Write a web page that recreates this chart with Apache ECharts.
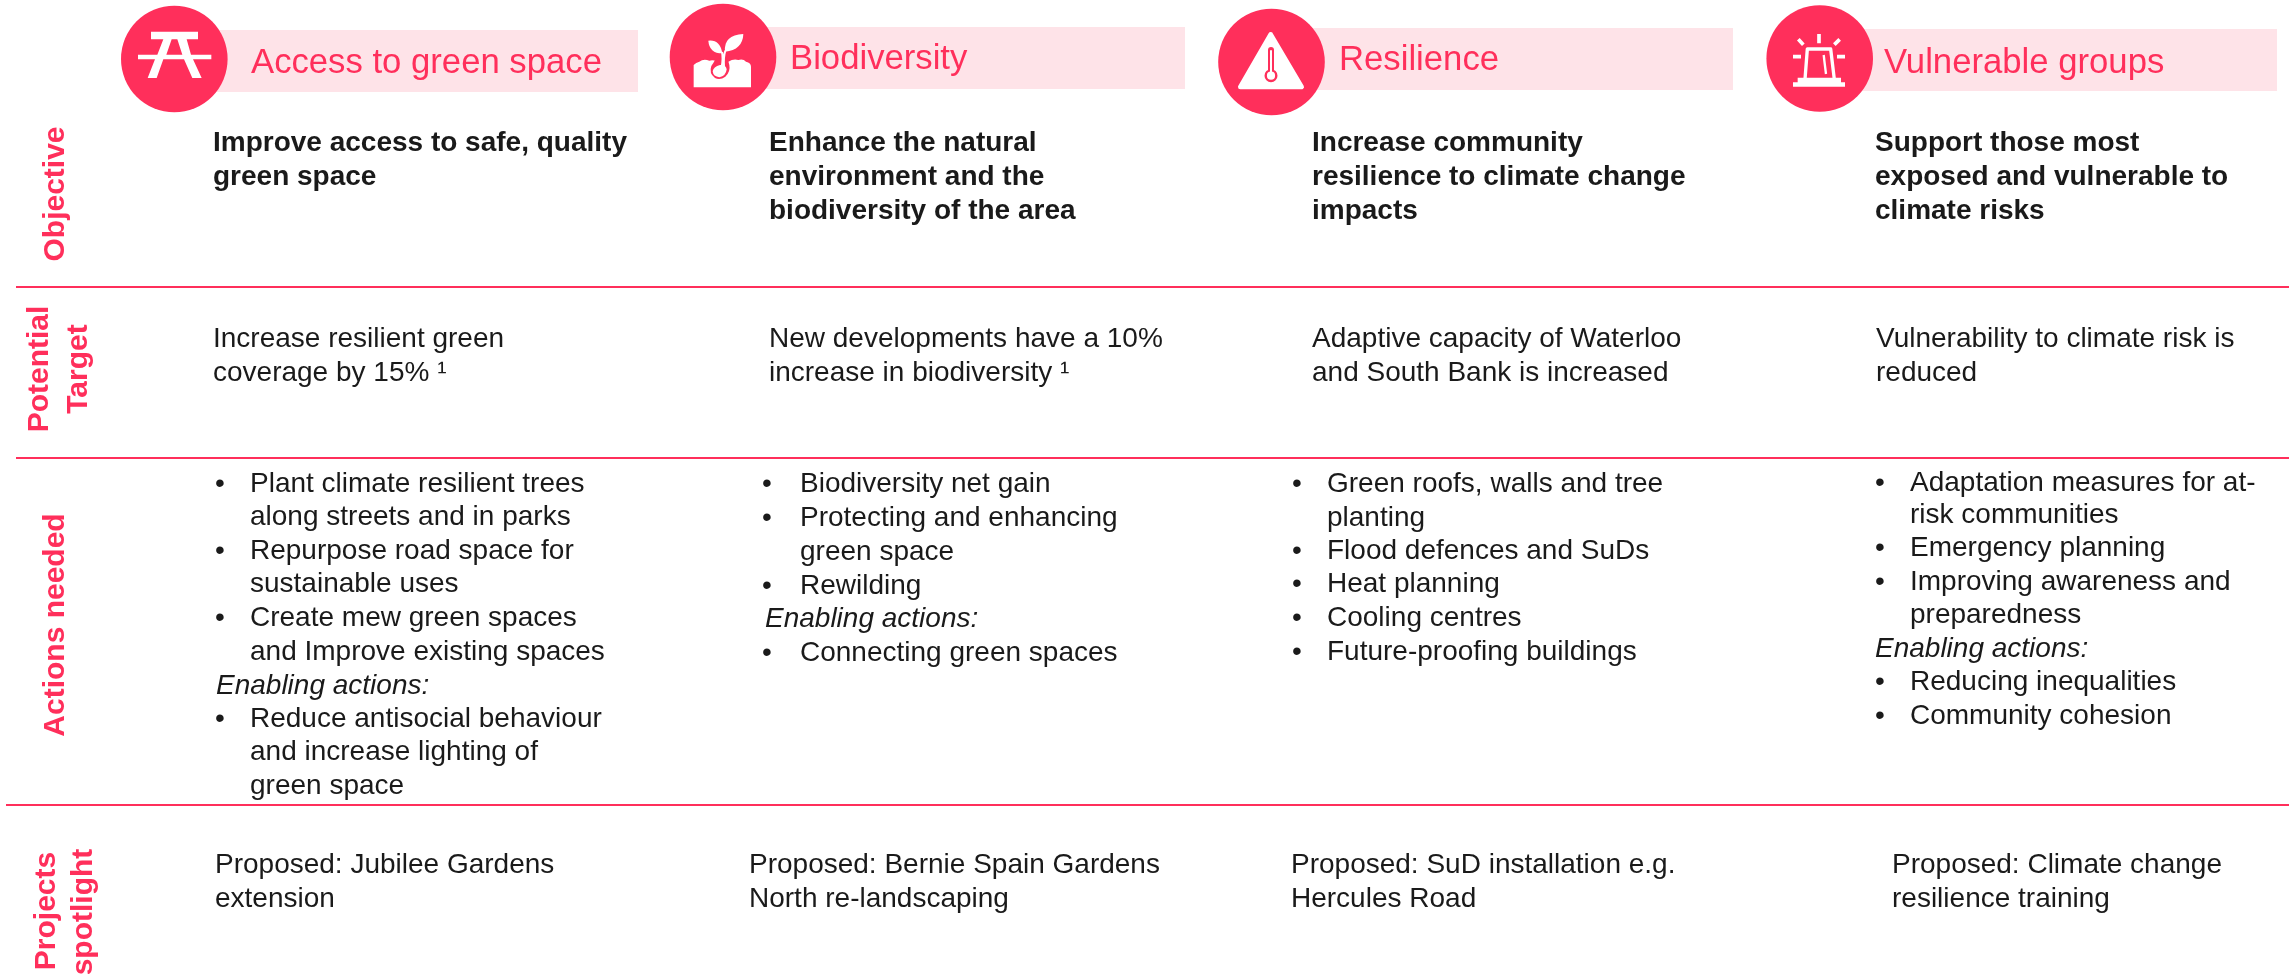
<!DOCTYPE html>
<html>
<head>
<meta charset="utf-8">
<script src="https://cdn.jsdelivr.net/npm/echarts@6/dist/echarts.min.js"></script>
<style>html,body{margin:0;padding:0;background:#fff}#c{width:2289px;height:974px}</style>
</head>
<body>
<div id="c"></div>
<script>
// ---- content ----
const categories = ['Access to green space', 'Biodiversity', 'Resilience', 'Vulnerable groups'];
const rowLabels = [['Objective'], ['Potential', 'Target'], ['Actions needed'], ['Projects', 'spotlight']];
const objectives = [
  ['Improve access to safe, quality', 'green space'],
  ['Enhance the natural', 'environment and the', 'biodiversity of the area'],
  ['Increase community', 'resilience to climate change', 'impacts'],
  ['Support those most', 'exposed and vulnerable to', 'climate risks']
];
const targets = [
  ['Increase resilient green', 'coverage by 15% ¹'],
  ['New developments have a 10%', 'increase in biodiversity ¹'],
  ['Adaptive capacity of Waterloo', 'and South Bank is increased'],
  ['Vulnerability to climate risk is', 'reduced']
];
// '* ' starts a bullet, '_ ' marks an italic line, anything else continues a bullet
const actions = [
  ['* Plant climate resilient trees', 'along streets and in parks', '* Repurpose road space for', 'sustainable uses', '* Create mew green spaces', 'and Improve existing spaces', '_ Enabling actions:', '* Reduce antisocial behaviour', 'and increase lighting of', 'green space'],
  ['* Biodiversity net gain', '* Protecting and enhancing', 'green space', '* Rewilding', '_ Enabling actions:', '* Connecting green spaces'],
  ['* Green roofs, walls and tree', 'planting', '* Flood defences and SuDs', '* Heat planning', '* Cooling centres', '* Future-proofing buildings'],
  ['* Adaptation measures for at-', 'risk communities', '* Emergency planning', '* Improving awareness and', 'preparedness', '_ Enabling actions:', '* Reducing inequalities', '* Community cohesion']
];
const projects = [
  ['Proposed: Jubilee Gardens', 'extension'],
  ['Proposed: Bernie Spain Gardens', 'North re-landscaping'],
  ['Proposed: SuD installation e.g.', 'Hercules Road'],
  ['Proposed: Climate change', 'resilience training']
];

// ---- layout and style ----
const PINK = '#FF2F5B', BAND = '#FEE3E8', INK = '#1A1A1A', WHITE = '#fff', FONT = '"Liberation Sans", Arial, sans-serif';
const headerLayout = [
  {cx: 174.3, cy: 59, bx: 200, by: 30, br: 638, tx: 251, ty: 63.5},
  {cx: 723, cy: 57, bx: 750, by: 27, br: 1185, tx: 790, ty: 59.5},
  {cx: 1271.5, cy: 62, bx: 1300, by: 28, br: 1733, tx: 1339, ty: 60.5},
  {cx: 1819.7, cy: 58.5, bx: 1845, by: 29, br: 2277, tx: 1884, ty: 63.5}
];
const objectiveX = [213, 769, 1312, 1875];
const targetX = [213, 769, 1312, 1876];
const projectX = [215, 749, 1291, 1892];
const actionLayout = [
  {bx: 215, tx: 250, ix: 216, ys: [484, 517.5, 551, 584.5, 618, 652, 686, 719, 752, 786]},
  {bx: 762, tx: 800, ix: 765, ys: [484, 518.5, 552, 586, 619, 653]},
  {bx: 1292, tx: 1327, ix: 1292, ys: [484, 518, 551, 584.5, 618, 652]},
  {bx: 1875, tx: 1910, ix: 1875, ys: [483, 515, 548, 582, 615, 649, 682, 716]}
];
const ruleLayout = [{x: 16, y: 287}, {x: 16, y: 458}, {x: 6, y: 805}];
const rowLabelLayout = [
  [{x: 55.5, y: 194}],
  [{x: 40, y: 369}, {x: 79, y: 369}],
  [{x: 56, y: 625}],
  [{x: 47, y: 911}, {x: 84, y: 912}]
];

const g = [];
function txt(s, x, y, o) {
  g.push(Object.assign({type: 'text', x, y, style: Object.assign({
    text: s, fill: INK, font: '28px ' + FONT, textAlign: 'left', textVerticalAlign: 'middle'
  }, o && o.style)}, o && o.el));
}
function rect(x, y, width, height, fill) { g.push({type: 'rect', shape: {x, y, width, height}, style: {fill}}); }
let pathCount = 0;
// icon shapes are traced at 3x and placed with an offset and a 1/3 scale
function svg(d, style, ox, oy) {
  const name = 'iconPath' + (pathCount++);
  echarts.graphic.registerShape(name, echarts.graphic.extendPath(d));
  g.push({type: name, x: ox, y: oy, scaleX: 1 / 3, scaleY: 1 / 3, style});
}
const solid = {fill: WHITE};

// rules
ruleLayout.forEach(r => g.push({type: 'line', shape: {x1: r.x, y1: r.y, x2: 2289, y2: r.y}, style: {stroke: PINK, lineWidth: 2}}));

// headers
categories.forEach((name, i) => {
  const h = headerLayout[i];
  rect(h.bx, h.by, h.br - h.bx, 62, BAND);
  g.push({type: 'circle', shape: {cx: h.cx, cy: h.cy, r: 53.3}, style: {fill: PINK}});
  txt(name, h.tx, h.ty, {style: {fill: PINK, font: '34.7px ' + FONT}});
});

// icon 1: picnic table
svg('M93 65 L234 65 L234 88 L200 88 L213 134 L274 134 L274 148 L219 148 L245 204 L217 204 L192 148 L130 148 L110 204 L83 204 L105 148 L54 148 L54 134 L112 134 L130 88 L93 88 Z M155 88 L139 134 L187 134 L172 88 Z', {fill: WHITE}, 120, 10);

// icon 2: sprout in soil
svg('M71 232 L71 165 Q78 158 88 155 Q100 146 118 152 Q130 148 140 155 L175 155 Q190 146 205 150 Q220 146 228 155 Q243 158 243 170 L243 232 Z', solid, 670, 10);
svg('M122 150 L135 150 Q130 160 124 168 Q116 190 135 204 Q150 212 166 200 Q182 185 178 165 L174 150 L150 146 Z', {fill: PINK}, 670, 10);
svg('M150 165 Q168 164 170 178 Q168 198 148 202 Q130 200 128 184 Q130 170 150 165 Z', solid, 670, 10);
svg('M115 92 Q150 88 157 130 Q118 130 115 92 Z', solid, 670, 10);
svg('M220 72 Q218 120 165 125 Q160 75 220 72 Z', solid, 670, 10);
svg('M156 126 Q160 145 155 170 M166 122 Q160 140 162 170', {fill: 'none', stroke: WHITE, lineWidth: 6}, 670, 10);

// icon 3: thermometer in triangle
svg('M158 58 L251 216 L67 216 Z', {fill: WHITE, stroke: WHITE, lineWidth: 14, lineJoin: 'round'}, 1218, 15);
svg('M159 105 L159 170', {fill: 'none', stroke: PINK, lineWidth: 18, lineCap: 'round'}, 1218, 15);
g.push({type: 'circle', shape: {cx: 1218 + 159 / 3, cy: 15 + 182 / 3, r: 5.3}, style: {fill: WHITE, stroke: PINK, lineWidth: 2.4}});
svg('M159 108 L159 172', {fill: 'none', stroke: WHITE, lineWidth: 6, lineCap: 'round'}, 1218, 15);

// icon 4: beacon
const BX = 1765, BY = 10;
svg('M162 72 L162 100 M100 88 L115 104 M224 88 L208 104 M84 140 L108 140 M216 140 L240 140', {fill: 'none', stroke: WHITE, lineWidth: 11}, BX, BY);
svg('M120 208 L127 117 L197 117 L208 208', {fill: 'none', stroke: WHITE, lineWidth: 10, lineJoin: 'round'}, BX, BY);
svg('M176 135 L183 192', {fill: 'none', stroke: WHITE, lineWidth: 7}, BX, BY);
svg('M98 203 L228 203 L228 217 L240 217 L240 230 L84 230 L84 217 L98 217 Z', solid, BX, BY);

// objective row
objectives.forEach((lines, c) => lines.forEach((l, k) => txt(l, objectiveX[c], 143.5 + k * 34, {style: {font: 'bold 28px ' + FONT}})));
// target row
targets.forEach((lines, c) => lines.forEach((l, k) => txt(l, targetX[c], 339 + k * 34)));
// actions row
actions.forEach((lines, c) => {
  const a = actionLayout[c];
  lines.forEach((l, k) => {
    const y = a.ys[k];
    if (l.startsWith('* ')) {
      txt('•', a.bx, y);
      txt(l.slice(2), a.tx, y);
    } else if (l.startsWith('_ ')) {
      txt(l.slice(2), a.ix, y, {style: {font: 'italic 28px ' + FONT}});
    } else {
      txt(l, a.tx, y);
    }
  });
});
// project row
projects.forEach((lines, c) => lines.forEach((l, k) => txt(l, projectX[c], 865 + k * 34)));
// row labels
rowLabels.forEach((lines, r) => lines.forEach((l, k) => {
  const p = rowLabelLayout[r][k];
  txt(l, p.x, p.y, {style: {fill: PINK, font: 'bold 30px ' + FONT, textAlign: 'center'}, el: {rotation: Math.PI / 2}});
}));

const chart = echarts.init(document.getElementById('c'), null, {renderer: 'canvas'});
chart.setOption({backgroundColor: '#fff', animation: false, graphic: {elements: g}});
</script>
</body>
</html>
